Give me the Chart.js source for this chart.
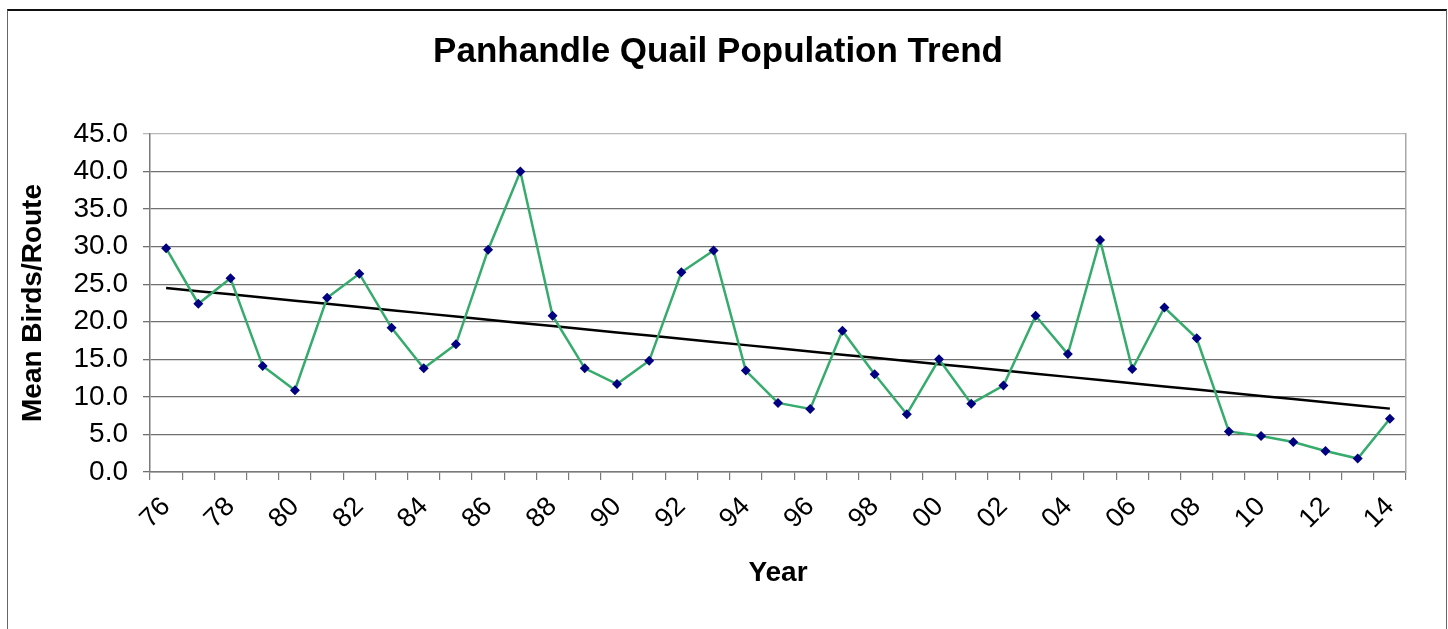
<!DOCTYPE html>
<html>
<head>
<meta charset="utf-8">
<title>Panhandle Quail Population Trend</title>
<script src="https://cdn.jsdelivr.net/npm/chart.js@4.4.1/dist/chart.umd.min.js"></script>
<style>
  html, body { margin: 0; padding: 0; background: #ffffff; overflow: hidden; }
  #wrap { position: relative; width: 1448px; height: 629px; }
  #frame {
    position: absolute; left: 7px; top: 9px; width: 1438px; height: 700px;
    border-left: 1px solid #666; border-right: 1px solid #666; border-top: 2px solid #111;
    pointer-events: none;
  }
</style>
</head>
<body>
<div id="wrap">
  <canvas id="chart" width="1448" height="629"></canvas>
  <div id="frame"></div>
</div>
<script>
// Survey years (two-digit labels)
const years = ['76','77','78','79','80','81','82','83','84','85','86','87','88','89',
               '90','91','92','93','94','95','96','97','98','99','00','01','02','03',
               '04','05','06','07','08','09','10','11','12','13','14'];

// Mean birds counted per route, one value per year
const meanBirds = [29.8, 22.4, 25.8, 14.1, 10.9, 23.2, 26.4, 19.2, 13.8, 17.0,
                   29.6, 40.0, 20.8, 13.8, 11.7, 14.8, 26.6, 29.5, 13.5, 9.2,
                   8.4, 18.8, 13.0, 7.7, 15.0, 9.1, 11.5, 20.8, 15.7, 30.9,
                   13.7, 21.9, 17.8, 5.4, 4.8, 4.0, 2.8, 1.8, 7.1];

// Y axis range
const yMin = 0, yMax = 45, yStep = 5;

// Least-squares linear trend through the yearly means
function linearTrend(vals) {
  const n = vals.length;
  let sx = 0, sy = 0, sxy = 0, sxx = 0;
  vals.forEach((v, i) => { sx += i; sy += v; sxy += i * v; sxx += i * i; });
  const slope = (n * sxy - sx * sy) / (n * sxx - sx * sx);
  const icpt = (sy - slope * sx) / n;
  return vals.map((_, i) => icpt + slope * i);
}
const trend = linearTrend(meanBirds);

const FONT = "'Liberation Sans', Arial, Helvetica, sans-serif";

new Chart(document.getElementById('chart'), {
  type: 'line',
  data: {
    labels: years,
    datasets: [
      {
        label: 'Mean Birds/Route',
        data: meanBirds,
        borderColor: '#35ab6c',
        borderWidth: 2.5,
        pointStyle: 'rectRot',
        pointRadius: 5,
        pointBackgroundColor: '#000080',
        pointBorderColor: '#000080',
        pointBorderWidth: 0,
        tension: 0,
        order: 1
      },
      {
        label: 'Trend',
        data: trend,
        borderColor: '#000000',
        borderWidth: 2.5,
        pointRadius: 0,
        tension: 0,
        order: 2
      }
    ]
  },
  options: {
    responsive: false,
    animation: false,
    layout: { padding: { left: 0, right: 12, top: 0, bottom: 0 } },
    plugins: {
      legend: { display: false },
      tooltip: { enabled: false },
      title: {
        display: true,
        text: 'Panhandle Quail Population Trend',
        color: '#000',
        font: { family: FONT, size: 35, weight: 'bold', lineHeight: 1.2 },
        padding: { top: 31, bottom: 61 }
      }
    },
    scales: {
      x: {
        type: 'category',
        offset: true,
        grid: {
          offset: true,
          drawOnChartArea: false,
          drawTicks: true,
          tickLength: 8,
          color: '#7a7a7a',
          lineWidth: 1.2
        },
        border: { display: true, color: '#7a7a7a', width: 1.5 },
        ticks: {
          autoSkip: false,
          minRotation: 45,
          maxRotation: 45,
          padding: 11,
          color: '#000',
          font: { family: FONT, size: 27 },
          callback: function (val, idx) { return idx % 2 === 0 ? this.getLabelForValue(val) : ''; }
        },
        title: {
          display: true,
          text: 'Year',
          color: '#000',
          font: { family: FONT, size: 28, weight: 'bold', lineHeight: 1.2 },
          padding: { top: 0, bottom: 39 }
        },
        afterFit(scale) { scale.height = 157; }
      },
      y: {
        min: yMin,
        max: yMax,
        grid: {
          color: (ctx) => (ctx.tick && ctx.tick.value === yMax) ? '#b8b8b8' : '#707070',
          lineWidth: 1.3,
          tickLength: 7
        },
        border: { display: true, color: '#7a7a7a', width: 1.5 },
        ticks: {
          stepSize: yStep,
          padding: 15,
          color: '#000',
          font: { family: FONT, size: 28 },
          callback: (v) => Number(v).toFixed(1)
        },
        title: {
          display: true,
          text: 'Mean Birds/Route',
          color: '#000',
          font: { family: FONT, size: 28, weight: 'bold', lineHeight: 1.2 },
          padding: { top: 16, bottom: 0 }
        },
        afterFit(scale) { scale.width = 150; }
      },
      yRight: {
        position: 'right',
        display: true,
        min: yMin,
        max: yMax,
        grid: { display: false, drawTicks: false },
        border: { display: true, color: '#a8a8a8', width: 1.5 },
        ticks: { display: false },
        afterFit(scale) { scale.width = 30; }
      }
    }
  }
});
</script>
</body>
</html>
